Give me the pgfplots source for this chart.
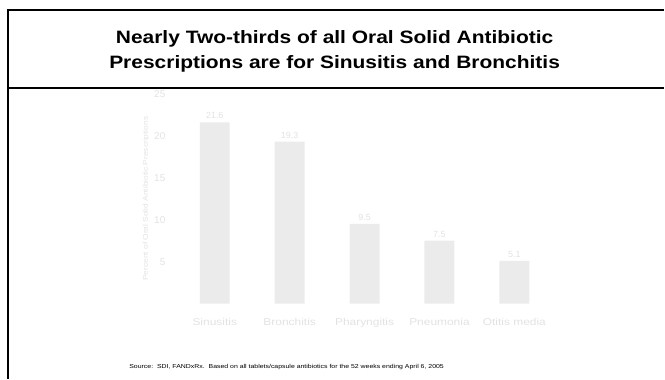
\documentclass[border=0pt]{standalone}
\usepackage{pgfplots}
\pgfplotsset{compat=1.18}
\usepackage{fontspec}
\usepackage{graphicx}
\setmainfont{Liberation Sans}
\definecolor{barc}{HTML}{EBEBEB}
\definecolor{txtc}{HTML}{E2E2E2}
\newcommand{\sx}[1]{\scalebox{1.2}[1]{#1}}
\begin{document}
\begin{tikzpicture}[x=1bp,y=1bp]
\path (0,0) rectangle (665,379);
\draw[line width=1.6bp] (8,0) -- (8,369) -- (665,369);
\draw[line width=1.6bp] (8,291) -- (665,291);
\node[align=center, font=\fontsize{18}{25}\selectfont\bfseries] at (335,328) {\scalebox{1.17}[1]{Nearly Two-thirds of all Oral Solid Antibiotic}\\\scalebox{1.17}[1]{Prescriptions are for Sinusitis and Bronchitis}};
\node[anchor=west, font=\fontsize{5.8}{7}\selectfont] at (126,12) {\sx{Source:\ \ SDI, FANDxRx.\ \ Based on all tablets/capsule antibiotics for the 52 weeks ending April 6, 2005}};
\begin{axis}[
  at={(165bp,75bp)}, anchor=south west,
  scale only axis, width=400bp, height=210bp,
  xmin=-0.667, xmax=4.667, ymin=0, ymax=25,
  axis line style={draw=none}, major tick style={draw=none},
  ytick={5,10,15,20,25},
  xtick=data,
  xticklabels={\sx{Sinusitis},\sx{Bronchitis},\sx{Pharyngitis},\sx{Pneumonia},\sx{Otitis media}},
  xticklabel style={yshift=-7bp},
  yticklabel style={xshift=4bp},
  tick label style={text=txtc, font=\fontsize{10}{12}\selectfont},
  /pgf/number format/assume math mode=true,
  ylabel={\sx{Percent of Oral Solid Antibiotic Prescriptions}},
  ylabel style={text=txtc, font=\fontsize{7}{8}\selectfont},
  ylabel shift=-2pt,
  ybar, bar width=30bp,
  nodes near coords,
  nodes near coords style={text=txtc, font=\fontsize{9}{10}\selectfont, /pgf/number format/fixed, /pgf/number format/fixed zerofill, /pgf/number format/precision=1},
  clip=false,
]
\addplot[fill=barc, draw=none] coordinates {(0,21.6) (1,19.3) (2,9.5) (3,7.5) (4,5.1)};
\end{axis}
\end{tikzpicture}
\end{document}
